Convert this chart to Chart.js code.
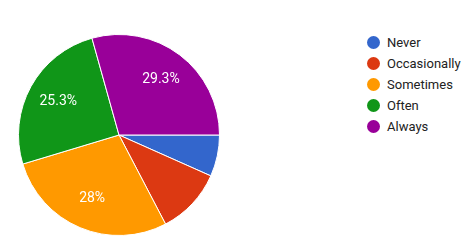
<!DOCTYPE html>
<html>
<head>
<meta charset="utf-8">
<script src="https://cdn.jsdelivr.net/npm/chart.js@4"></script>
<style>
  body { margin: 0; background: #fff; font-family: Roboto, Arial, sans-serif; }
  #wrap { position: relative; width: 469px; height: 240px; }
  #box { position: absolute; left: 0; top: 0; width: 240px; height: 240px; }
  #legend { position: absolute; left: 367px; top: 32px; }
  .item { display: flex; align-items: center; height: 21px; font-size: 13px; color: #222; }
  .dot { width: 13px; height: 13px; border-radius: 50%; margin-right: 7px; }
</style>
</head>
<body>
<div id="wrap">
  <div id="box"><canvas id="pie"></canvas></div>
  <div id="legend"></div>
</div>
<script>
const labels = ['Never', 'Occasionally', 'Sometimes', 'Often', 'Always'];
const counts = [5, 8, 21, 19, 22];
const colors = ['#3366cc', '#dc3912', '#ff9900', '#109618', '#990099'];

// percentages on the slices, like google forms does
const pctLabels = {
  id: 'pctLabels',
  afterDatasetsDraw(chart) {
    const ctx = chart.ctx;
    const total = counts.reduce((a, b) => a + b, 0);
    chart.getDatasetMeta(0).data.forEach((arc, i) => {
      const pct = counts[i] / total * 100;
      if (pct < 15) return;
      const p = arc.getProps(['x', 'y', 'startAngle', 'endAngle', 'outerRadius'], true);
      const mid = (p.startAngle + p.endAngle) / 2;
      const r = p.outerRadius * 0.69;
      let txt = pct.toFixed(1).replace(/\.0$/, '') + '%';
      ctx.save();
      ctx.fillStyle = '#fff';
      ctx.font = '14px Roboto, Arial, sans-serif';
      ctx.textAlign = 'center';
      ctx.textBaseline = 'middle';
      ctx.fillText(txt, p.x + Math.cos(mid) * r, p.y + Math.sin(mid) * r);
      ctx.restore();
    });
  }
};

new Chart(document.getElementById('pie'), {
  type: 'pie',
  data: {
    labels: labels,
    datasets: [{
      data: counts,
      backgroundColor: colors,
      borderColor: '#fff',
      borderWidth: 1
    }]
  },
  options: {
    responsive: true,
    maintainAspectRatio: false,
    animation: false,
    rotation: 90,
    layout: { padding: { left: 18, top: 34, right: 20, bottom: 4 } },
    plugins: { legend: { display: false }, tooltip: { enabled: false } }
  },
  plugins: [pctLabels]
});

const lg = document.getElementById('legend');
labels.forEach((l, i) => {
  lg.innerHTML += '<div class="item"><span class="dot" style="background:' + colors[i] + '"></span>' + l + '</div>';
});
</script>
</body>
</html>
